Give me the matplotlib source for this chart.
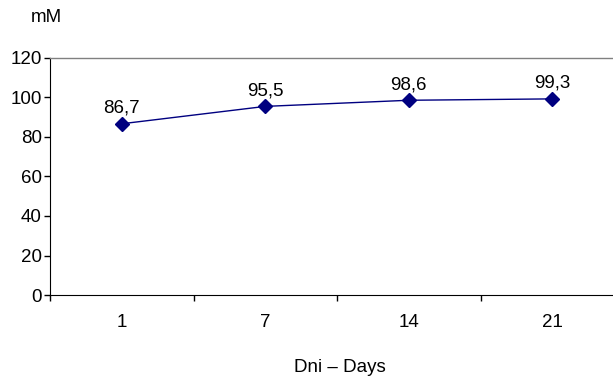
import matplotlib
matplotlib.use("Agg")
import matplotlib.pyplot as plt
from matplotlib.ticker import FixedLocator

plt.rcParams["font.family"] = ["Liberation Sans", "DejaVu Sans"]

days = ["1", "7", "14", "21"]
values = [86.7, 95.5, 98.6, 99.3]
labels = ["86,7", "95,5", "98,6", "99,3"]

W, H = 613, 377
FS = 13.5
fig = plt.figure(figsize=(W / 100, H / 100), dpi=100)
fig.patch.set_facecolor("white")

# plot area runs past the right edge, like the original export
ax = fig.add_axes([50 / W, 1 - 295 / H, (624 - 50) / W, (295 - 58) / H])
x = list(range(len(days)))
ax.plot(x, values, color="#000080", linewidth=1, marker="D", markersize=7.5,
        markerfacecolor="#000080", markeredgecolor="#000080", clip_on=False)
for xi, v, lab in zip(x, values, labels):
    ax.annotate(lab, (xi, v), xytext=(0, 5), textcoords="offset points",
                ha="center", va="bottom", fontsize=FS, color="black")

ax.set_xlim(-0.5, len(days) - 0.5)
ax.set_ylim(0, 120)
ax.set_yticks(range(0, 121, 20))
ax.tick_params(axis="y", direction="out", length=4, width=1, labelsize=FS, pad=2)
ax.set_xticks(x)
ax.set_xticklabels(days)
ax.tick_params(axis="x", which="major", length=0, labelsize=FS, pad=14)
ax.xaxis.set_minor_locator(FixedLocator([i - 0.5 for i in range(len(days) + 1)]))
ax.tick_params(axis="x", which="minor", direction="out", length=4, width=1)

ax.spines["right"].set_visible(False)
ax.spines["top"].set_color("#808080")
ax.spines["top"].set_linewidth(1)
ax.spines["left"].set_color("black")
ax.spines["bottom"].set_color("black")

fig.text(46 / W, 1 - 18 / H, "mM", ha="center", va="center", fontsize=FS)
fig.text(340 / W, 1 - 368 / H, "Dni – Days", ha="center", va="center", fontsize=FS)

fig.savefig("out.png", dpi=100, facecolor="white")
